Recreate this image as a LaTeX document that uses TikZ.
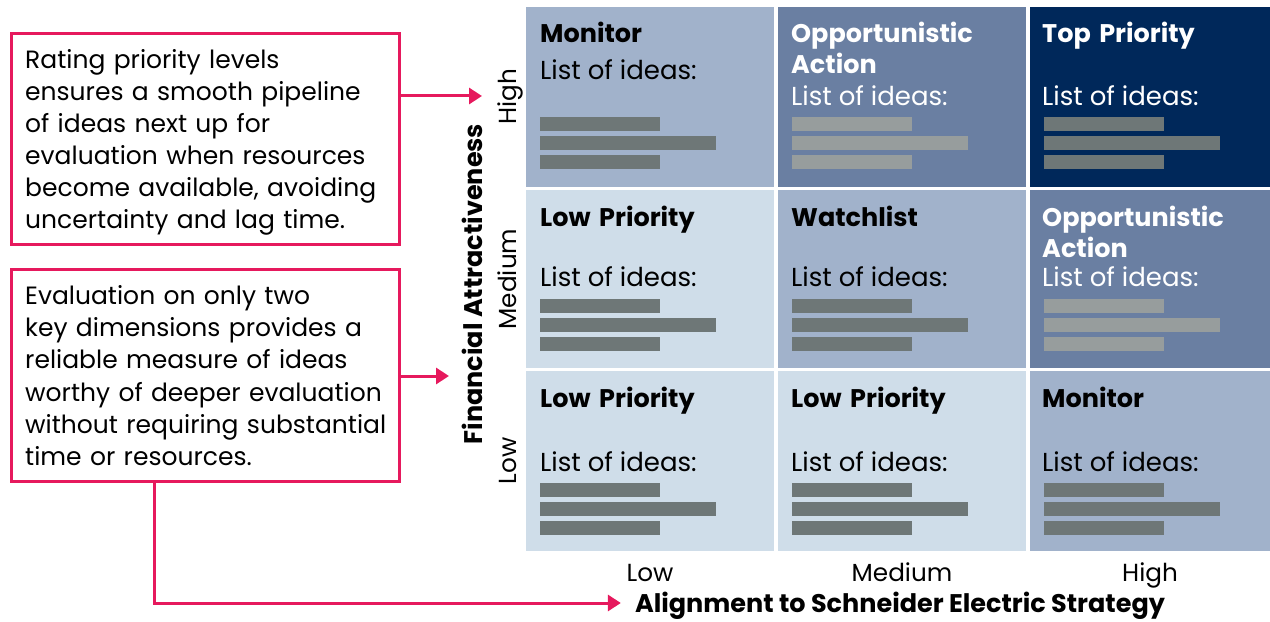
\documentclass[tikz,border=0pt]{standalone}
\usepackage{fontspec}
\setmainfont{Poppins}
\usetikzlibrary{calc,arrows.meta}

\definecolor{cellL}{HTML}{CFDDE9}
\definecolor{cellM}{HTML}{A1B2CB}
\definecolor{cellD}{HTML}{6A7FA2}
\definecolor{cellN}{HTML}{00285A}
\definecolor{barD}{HTML}{6E7777}
\definecolor{barL}{HTML}{979D9D}
\definecolor{accent}{HTML}{E6195D}

% three placeholder bars under "List of ideas:" (cell, colour, offset from cell top)
\newcommand\ideabars[3]{%
  \fill[#2] ($(#1.north west)+(14,#3)$) rectangle +(120,14);
  \fill[#2] ($(#1.north west)+(14,#3+19)$) rectangle +(176,14);
  \fill[#2] ($(#1.north west)+(14,#3+38)$) rectangle +(120,14);}

\tikzset{
  cell/.style={inner sep=0, outer sep=0, anchor=north west},
  ttl/.style={font=\bfseries\fontsize{25.5bp}{31bp}\selectfont, anchor=base west,
    inner sep=0, text width=230bp, align=left},
  lst/.style={font=\fontsize{26bp}{30bp}\selectfont, anchor=base west, inner sep=0},
  note/.style={draw=accent, line width=3bp, inner sep=0, anchor=north west},
  notetext/.style={font=\fontsize{25bp}{32bp}\selectfont, anchor=base west,
    inner sep=0, text width=370bp, align=left},
  link/.style={draw=accent, line width=3bp, -{Triangle[length=13bp,width=16bp]}},
  axis/.style={font=\fontsize{24.7bp}{28bp}\selectfont, inner sep=0, anchor=base},
  axisttl/.style={font=\bfseries\fontsize{25.5bp}{28bp}\selectfont, inner sep=0, anchor=base},
}

\begin{document}
\begin{tikzpicture}[x=1bp,y=-1bp]
\useasboundingbox (0,0) rectangle (1270,622);

% ---------- priority grid ----------
\node[cell, fill=cellM, minimum width=248bp, minimum height=180bp] (c11) at (526,7) {};
\node[cell, fill=cellD, minimum width=248bp, minimum height=180bp] (c12) at (778,7) {};
\node[cell, fill=cellN, minimum width=240bp, minimum height=180bp] (c13) at (1030,7) {};
\node[cell, fill=cellL, minimum width=248bp, minimum height=178bp] (c21) at (526,190) {};
\node[cell, fill=cellM, minimum width=248bp, minimum height=178bp] (c22) at (778,190) {};
\node[cell, fill=cellD, minimum width=240bp, minimum height=178bp] (c23) at (1030,190) {};
\node[cell, fill=cellL, minimum width=248bp, minimum height=180bp] (c31) at (526,371) {};
\node[cell, fill=cellL, minimum width=248bp, minimum height=180bp] (c32) at (778,371) {};
\node[cell, fill=cellM, minimum width=240bp, minimum height=180bp] (c33) at (1030,371) {};

% row: high attractiveness
\node[ttl] (h11) at ($(c11.north west)+(14,36)$) {Monitor};
\node[lst] (l11) at ($(c11.north west)+(14,73)$) {List of ideas:};
\ideabars{c11}{barD}{110}
\node[ttl, text=white] (h12) at ($(c12.north west)+(13,36)$) {Opportunistic\\Action};
\node[lst, text=white] (l12) at ($(c12.north west)+(13,99)$) {List of ideas:};
\ideabars{c12}{barL}{110}
\node[ttl, text=white] (h13) at ($(c13.north west)+(12,36)$) {Top Priority};
\node[lst, text=white] (l13) at ($(c13.north west)+(12,99)$) {List of ideas:};
\ideabars{c13}{barD}{110}

% row: medium attractiveness
\node[ttl] (h21) at ($(c21.north west)+(14,37)$) {Low Priority};
\node[lst] (l21) at ($(c21.north west)+(14,97)$) {List of ideas:};
\ideabars{c21}{barD}{109}
\node[ttl] (h22) at ($(c22.north west)+(13,37)$) {Watchlist};
\node[lst] (l22) at ($(c22.north west)+(13,97)$) {List of ideas:};
\ideabars{c22}{barD}{109}
\node[ttl, text=white] (h23) at ($(c23.north west)+(12,37)$) {Opportunistic\\Action};
\node[lst, text=white] (l23) at ($(c23.north west)+(12,97)$) {List of ideas:};
\ideabars{c23}{barL}{109}

% row: low attractiveness
\node[ttl] (h31) at ($(c31.north west)+(14,36)$) {Low Priority};
\node[lst] (l31) at ($(c31.north west)+(14,100)$) {List of ideas:};
\ideabars{c31}{barD}{112}
\node[ttl] (h32) at ($(c32.north west)+(13,36)$) {Low Priority};
\node[lst] (l32) at ($(c32.north west)+(13,100)$) {List of ideas:};
\ideabars{c32}{barD}{112}
\node[ttl] (h33) at ($(c33.north west)+(12,36)$) {Monitor};
\node[lst] (l33) at ($(c33.north west)+(12,100)$) {List of ideas:};
\ideabars{c33}{barD}{112}

% ---------- axes ----------
\node[axis] (xlo) at (c31.south |- 0,581) {Low};
\node[axis] (xmd) at (c32.south |- 0,581) {Medium};
\node[axis] (xhi) at (c33.south |- 0,581) {High};
\node[axisttl] (xttl) at (900,612) {Alignment to Schneider Electric Strategy};

\node[axis, rotate=90] (yhi) at (516,0 |- c11.west) {High};
\node[axis, rotate=90] (ymd) at (516,0 |- c21.west) {Medium};
\node[axis, rotate=90] (ylo) at (516,0 |- c31.west) {Low};
\node[axisttl, rotate=90] (yttl) at (482,284) {Financial Attractiveness};

% ---------- notes ----------
\node[note, minimum width=388bp, minimum height=211bp] (box1) at (10,32) {};
\node[notetext] (txt1) at (25,69) {Rating priority levels\\ensures a smooth pipeline\\of ideas next up for\\evaluation when resources\\become available, avoiding\\uncertainty and lag time.};
\node[note, minimum width=388bp, minimum height=212bp] (box2) at (10,268) {};
\node[notetext] (txt2) at (25,305) {Evaluation on only two\\key dimensions provides a\\reliable measure of ideas\\worthy of deeper evaluation\\without requiring substantial\\time or resources.};

% ---------- connectors ----------
\coordinate (tipA) at (482,96);
\coordinate (tipB) at (449,376);
\coordinate (bend) at (154,603);
\coordinate (tipC) at ($(xttl.west |- bend)+(-14,0)$);
\draw[link] (box1.east |- tipA) -- (tipA);
\draw[link] (box2.east |- tipB) -- (tipB);
\draw[link] (bend |- box2.south) -- (bend) -- (tipC);
\end{tikzpicture}
\end{document}
